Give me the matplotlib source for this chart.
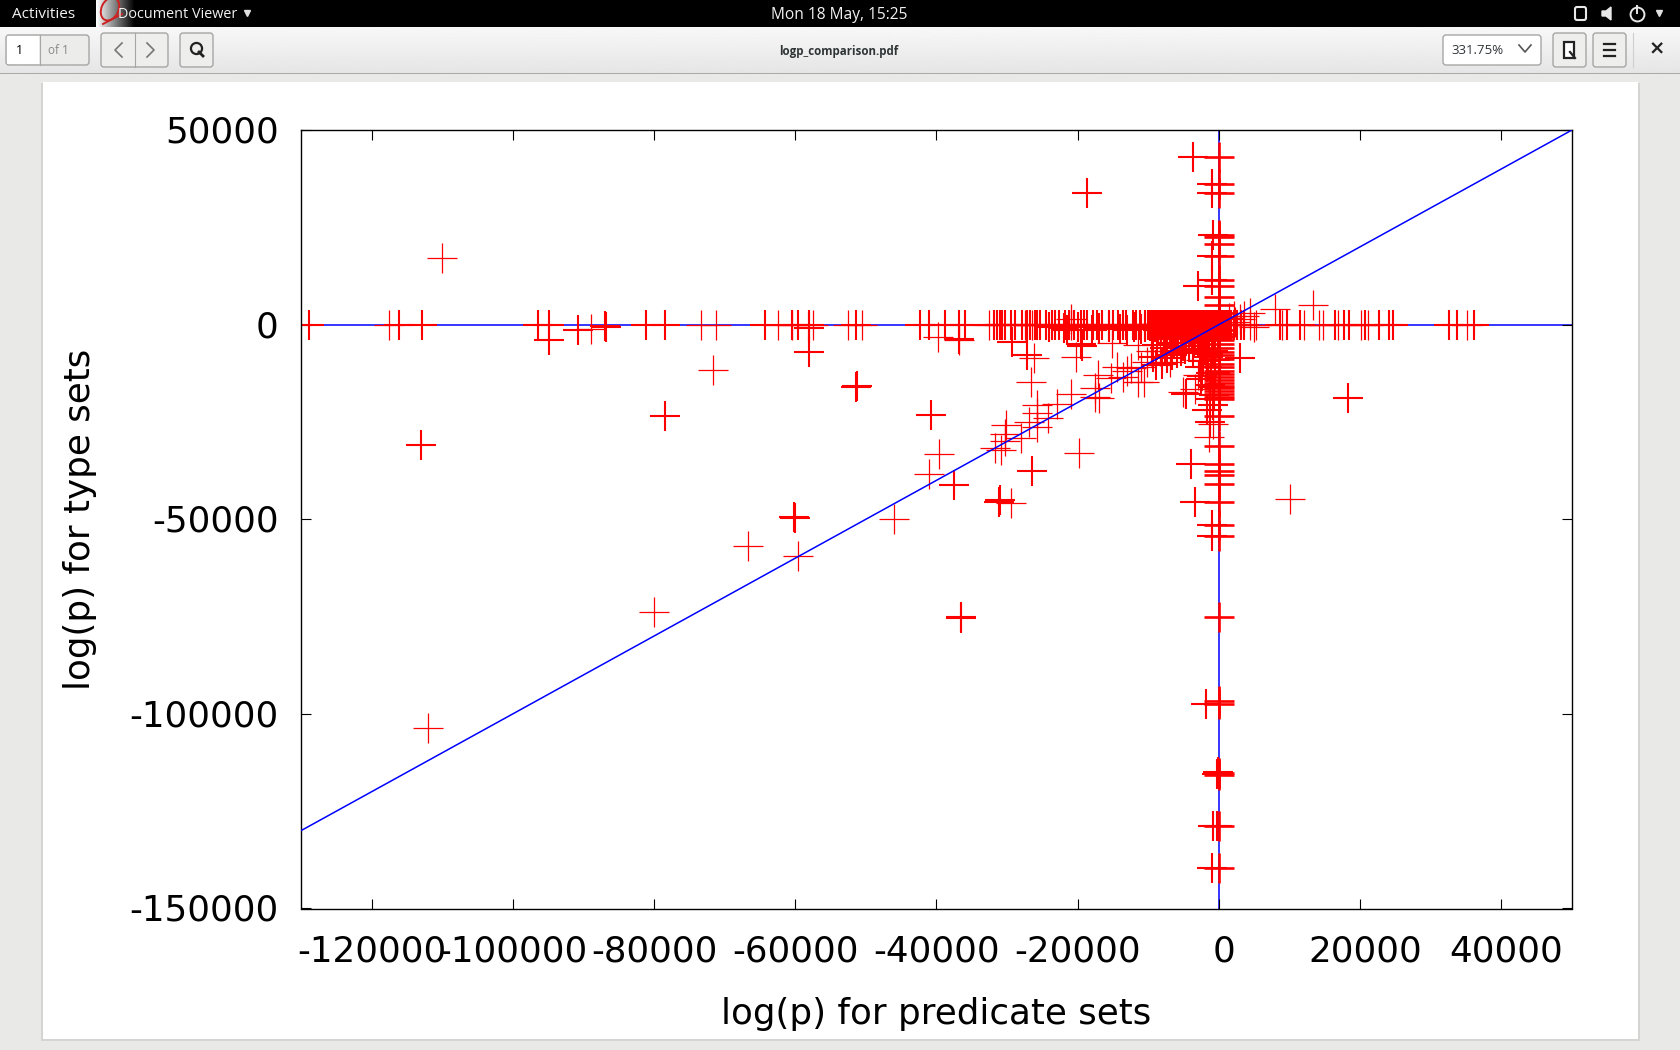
import matplotlib
matplotlib.use("Agg")
import matplotlib.pyplot as plt
import matplotlib.patches as patches
import matplotlib.transforms as mtrans
import numpy as np

plt.rcParams["axes.unicode_minus"] = False
plt.rcParams["font.family"] = "DejaVu Sans"

# points lying on y=0 (predicate sets only)
row_bold_x = [-128800, -116150, -112900, -96400, -94900, -81100, -78500, -64300, -60400, -59600,
              -58100, -51400, -42300, -41000, -38800, -36800, -35900, -31800, -31400, -31000, -30700, -30300,
              -29400, -28900, -27900, -27200, -26800, -26100, -25700, -25300, -24500,
              -23700, -23200, -22700, -21800, -21300, -20500, -19500, -19100, -18750,
              -17800, -17300, -16600, -15600, -15000, -14300, -13600, -13100,
              -12150, -11700, -11200, -10500,
              -10100, -9900, -9650, -9400, -9150, -8900, -8700, -8450, -8200, -8000, -7750,
              -7500, -7300, -7050, -6800, -6600, -6350, -6150, -5900, -5700, -5450, -5250, -5000,
              -4800, -4550, -4350, -4100, -3900, -3650, -3450, -3200, -3000, -2750, -2550, -2300,
              -2100, -1850, -1650, -1400, -1200, -950, -750, -500, -300, -100, 150, 400, 650, 900,
              1150, 1400, 1700, 2100, 2500, 3100, 3500, 8600, 9660, 11460, 16400, 17690, 18440,
              20660, 22640, 24060, 24670, 32560, 33740, 36100]
row_thin_x = [-117500, -73300, -71200, -62400, -60400, -57500, -52500, -50500, -32500, -27500, -26500,
              -20900, 4400, 5200, 8950, 12020, 14200, 14670, 16890, 20100, 21130, 35150]

# points lying on x=0 (type sets only)
col_bold_y = [43150, 36200, 33900, 23030, 22500, 20700, 17700, 11400, 9950, 7000, 5000, 3000,
              -1500, -2500, -3300, -4000, -5000, -6000, -7000, -7800, -8900, -10100, -11000, -11900, -12600,
              -13400, -14200, -14900, -15700, -16400, -17000, -17700, -18500, -19200, -23500, -31200,
              -35800, -37500, -38600, -41000, -45600, -51500, -54300, -75000, -96600, -97400, -115200,
              -115700, -128800, -139700]

# off-axis points
bold_x = [-113000, -78400, -60200, -60000, -58100, -58100, -51400, -51300, -40800, -36600, -36500,
          -37500, -26500, -31130, -31050, -18750, 18300, 2960, -94900, -90800, -87000, -86800,
          -36800, -29300, -27200, -19500, -19400, -3000, -990, -990, -900, -1000, -1000, -3700,
          -3950, -3450, -980, -980, -1800, -300, -100, -300, -800, -1000, -4600, -1750, -2700,
          -2300, -1500, -1100, -2000, -2500, -1300, -900, -1700, -1200, -600, -500, -800,
          -9300, -8850, -8100, -7400, -6700, -6000, -5400, -4800, -4200, -3600, -3000, -2400, -1800,
          -7800, -7000, -6400, -5800, -5200, -4600, -4000, -3400, -2800, -2200, -1600, -1000,
          -24000, -22000, -21500, -20000, -18000, -17000, -15500, -14000, -13000, -12000, -11000, -10500,
          -9800, -9400, -9000, -8600, -8200, -7800, -7400, -7000, -6600, -6200, -5800, -5400, -5000,
          -4600, -4200, -3800, -3400, -3000, -2600, -2200, -1800, -1400, -1000, -600, -200,
          -8800, -7600, -6300, -5100, -3700, -1500, -900, -2400, -1300, -700]
bold_y = [-31000, -23400, -49500, -49800, -6940, -940, -16000, -15700, -23200, -75100, -75300,
          -41300, -37550, -45500, -45000, 33800, -18800, -8500, -3900, -1370, -340, -600,
          -3700, -4400, -7800, -5000, -5600, 9950, 36200, 33900, 23030, 17700, 11400, 43150,
          -35800, -45600, -51500, -54300, -97400, -115400, -115000, -128800, -128900, -139700, -17700, -11000, -10800,
          -9300, -8300, -12400, -6500, -14000, -15400, -20700, -22000, -25000, -9000, -12500, -16000,
          -8200, -10400, -10000, -8650, -7800, -7400, -6800, -6200, -5400, -4800, -4200, -3600, -3000,
          -2800, -2400, -3100, -1900, -3700, -2600, -1800, -3300, -2300, -1500, -2900, -1100,
          -700, -900, -1300, -500, -1500, -800, -500, -1000, -1400, -700, -1200, -500,
          -400, -900, -600, -1300, -800, -1700, -1100, -2000, -1400, -2300, -1600, -2500, -1900,
          -2800, -2200, -3000, -2500, -3300, -2800, -3300, -3000, -3300, -2900, -3300, -3100,
          -5200, -6000, -4700, -5600, -7000, -7600, -6800, -13300, -19000, -18200]

thin_x = [-110000, -112000, -71700, -80000, -66700, -59600, -46000, -39700, -41000, -89000, -39800,
          -36800, -26200, -26600, -20300, -15100, -29400, -19850, -31750, -30800, -30300, -30200,
          -30300, -28100, -26900, -25800, -25800, -24200, -25750, -23000, -20900, -17600, -17000,
          -17560, -17100, -15350, -13550, -12400, -11400, -10600, -11000, -10250, -11400, -5100,
          10100, 13350, 7900, 4380, 3000, 2200, -860, -1470, -2500, -2900, -3400, -13000, -9600, -8300,
          -6900, 1400, 2300, 3600, 5000, -14400, -20900]
thin_y = [17000, -103700, -11600, -73700, -57000, -59500, -50000, -33300, -38300, -1100, -3260,
          -3900, -8650, -14800, -8200, -4800, -45950, -33100, -31800, -32200, -29800, -25900,
          -28100, -29100, -24950, -22800, -26400, -24100, -20580, -20400, -17800, -16400, -18900,
          -18700, -12950, -13800, -13400, -11200, -14650, -14650, -10800, -9500, -5200, -17200,
          -44900, 5050, 4030, 2900, 1500, 2300, -25550, -28970, -9000, -13000, -16500, -11800,
          -6800, -6900, -9700, 1700, 800, 2200, -700, -11000, 1500]

xticks = [-120000, -100000, -80000, -60000, -40000, -20000, 0, 20000, 40000]
yticks = [-150000, -100000, -50000, 0, 50000]
ends_x = [-130000, 50000]
ends_y = [-130000, 50000]

BLUE = "#0000ff"
RED = "#ff0000"

fig = plt.figure(figsize=(16.8, 10.5), dpi=100, facecolor="#e9e9e7")

# the document viewer window around the page, in screen pixels
chrome = fig.add_axes([0, 0, 1, 1], zorder=0)
chrome.set_xlim(0, 1680)
chrome.set_ylim(1050, 0)
chrome.axis("off")


def box(x0, y0, x1, y1, face, edge="none", lw=1.0, round_px=0, z=2):
    if round_px:
        style = "round,pad=0,rounding_size=%d" % round_px
        p = patches.FancyBboxPatch((x0, y0), x1 - x0, y1 - y0, boxstyle=style, fc=face, ec=edge, lw=lw, zorder=z)
    else:
        p = patches.Rectangle((x0, y0), x1 - x0, y1 - y0, fc=face, ec=edge, lw=lw, zorder=z)
    chrome.add_patch(p)


# page with a soft shadow
box(41, 83, 1640, 1041, "#d4d4d2", z=1)
box(43, 82, 1638, 1039, "white", z=1.5)

# toolbar
grad = np.linspace(0.97, 0.90, 40).reshape(-1, 1)
chrome.imshow(grad, cmap="gray", vmin=0, vmax=1, extent=(0, 1680, 73, 27), aspect="auto", zorder=1)
box(0, 73, 1680, 74, "#a9a9a7")
box(0, 0, 1680, 27, "black")

# app icon in the top bar
fade = np.linspace(1, 0, 40).reshape(1, -1)
icon = np.dstack([fade, fade, fade])
chrome.imshow(icon, extent=(96, 135, 27, 0), aspect="auto", zorder=2.1)
chrome.set_xlim(0, 1680)
chrome.set_ylim(1050, 0)
chrome.add_patch(patches.Ellipse((110, 9), 17, 24, angle=25, fc="none", ec="#cc2222", lw=1.4, zorder=2.2))
chrome.plot([103, 122], [24, 14], color="#cc2222", lw=1.4, zorder=2.2)

top = dict(color="#f2f2f2", family="Open Sans", va="center", zorder=3)
chrome.text(12, 15, "Activities", fontsize=11, **top)
chrome.text(118, 15, "Document Viewer", fontsize=10.4, **top)
chrome.text(771, 15, "Mon 18 May, 15:25", fontsize=11.2, **top)
chrome.plot([247], [13], marker="v", ms=5, color="#e0e0e0", zorder=3)
chrome.plot([1659], [13], marker="v", ms=5, color="#e0e0e0", zorder=3)
box(1575, 7, 1586, 20, "none", edge="#e8e8e8", lw=1.5, round_px=2, z=3)
chrome.fill([1602, 1606, 1611, 1611, 1606, 1602], [11, 11, 7, 20, 16, 16], color="#e8e8e8", zorder=3)
chrome.plot([1637], [14], marker="o", ms=10, mfc="none", mec="#e8e8e8", mew=1.4, zorder=3)
chrome.plot([1637, 1637], [6, 13], color="#e8e8e8", lw=1.4, zorder=3)

# page entry, nav and search buttons
btn = "#eeeeec"
line = "#a6a6a4"
box(6, 35, 89, 65, "#ececea", edge=line, round_px=3)
box(7, 36, 39, 64, "white", z=2.1)
chrome.plot([39.5, 39.5], [35, 65], color=line, lw=0.8, zorder=2.2)
chrome.text(19, 50, "1", fontsize=9, family="Open Sans", ha="center", va="center", zorder=3)
chrome.text(58, 50, "of 1", fontsize=8.5, family="Open Sans", color="#8a8a8a", ha="center", va="center", zorder=3)
box(101, 33, 168, 67, btn, edge=line, round_px=3)
chrome.plot([134.5, 134.5], [33, 67], color=line, lw=0.8, zorder=2.2)
chrome.plot([122, 115, 122], [43, 50, 57], color="#777777", lw=1.2, zorder=3)
chrome.plot([147, 154, 147], [43, 50, 57], color="#777777", lw=1.2, zorder=3)
box(180, 33, 213, 67, btn, edge=line, round_px=3)
chrome.plot([196], [48], marker="o", ms=8, mfc="none", mec="#222222", mew=1.6, zorder=3)
chrome.plot([199, 203], [52, 56], color="#222222", lw=2, zorder=3)

chrome.text(839, 51, "logp_comparison.pdf", fontsize=8.3, family="Open Sans", weight="bold", color="#2e3436",
            ha="center", va="center", zorder=3)

# zoom box and right buttons
box(1443, 35, 1541, 65, "white", edge=line, round_px=3)
chrome.text(1477, 50.5, "331.75%", fontsize=9.5, family="Open Sans", color="#2e3436", ha="center", va="center", zorder=3)
chrome.plot([1519, 1525, 1531], [45, 52, 45], color="#555555", lw=1.2, zorder=3)
box(1553, 33, 1586, 67, btn, edge=line, round_px=3)
box(1593, 33, 1626, 67, btn, edge=line, round_px=3)
box(1564, 42, 1574, 58, "white", edge="#222222", lw=1.6, z=3)
chrome.plot([1570, 1575], [52, 58], color="#222222", lw=1.6, zorder=3.1)
for yy in [44, 50, 56]:
    chrome.plot([1604, 1615], [yy, yy], color="#222222", lw=1.6, zorder=3)
chrome.plot([1633, 1633], [33, 67], color="#cfcfcd", lw=0.8, zorder=3)
chrome.text(1657, 49, "\u00d7", fontsize=14, weight="bold", color="#222222", ha="center", va="center", zorder=3)

# the plot itself
L, R, T, B = 301, 1572, 130, 908.5
ax = fig.add_axes([L / 1680, (1050 - B) / 1050, (R - L) / 1680, (B - T) / 1050], zorder=2)
ax.patch.set_alpha(0)
ax.set_xlim(-130000, 50000)
ax.set_ylim(-150000, 50000)

# zero axes stay under the points, the diagonal goes on top
ax.axhline(0, color=BLUE, lw=1.1, zorder=1)
ax.axvline(0, color=BLUE, lw=1.1, zorder=1)

mark = 21
ax.plot(row_bold_x, [0] * len(row_bold_x), "+", color=RED, ms=mark, mew=1.5, zorder=2)
ax.plot(row_thin_x, [0] * len(row_thin_x), "+", color=RED, ms=mark, mew=0.9, zorder=2)
ax.plot([0] * len(col_bold_y), col_bold_y, "+", color=RED, ms=mark, mew=1.9, zorder=2)
ax.plot(bold_x, bold_y, "+", color=RED, ms=mark, mew=1.5, zorder=2)
ax.plot(thin_x, thin_y, "+", color=RED, ms=mark, mew=0.9, zorder=2)
ax.plot(ends_x, ends_y, color=BLUE, lw=1.1, zorder=3)

ax.set_xticks(xticks)
ax.set_yticks(yticks)
ax.tick_params(which="both", direction="in", top=True, right=True, length=7.5, width=0.8, labelsize=25.7)
ax.tick_params(axis="x", pad=18.5)
ax.tick_params(axis="y", pad=16)
for spine in ax.spines.values():
    spine.set_linewidth(1.0)

ax.set_xlabel("log(p) for predicate sets", fontsize=25.7, labelpad=21)
ax.set_ylabel("log(p) for type sets", fontsize=25.7, labelpad=23.5)

# positive x labels sit a few pixels right of their tick, y labels a little above
shift = mtrans.ScaledTranslation(5 / 100, 0, fig.dpi_scale_trans)
for val, lab in zip(xticks, ax.get_xticklabels()):
    if val >= 0:
        lab.set_transform(lab.get_transform() + shift)
lift = mtrans.ScaledTranslation(0, 1 / 100, fig.dpi_scale_trans)
for lab in ax.get_yticklabels():
    lab.set_transform(lab.get_transform() + lift)

fig.savefig("out.png", dpi=100, facecolor=fig.get_facecolor())
